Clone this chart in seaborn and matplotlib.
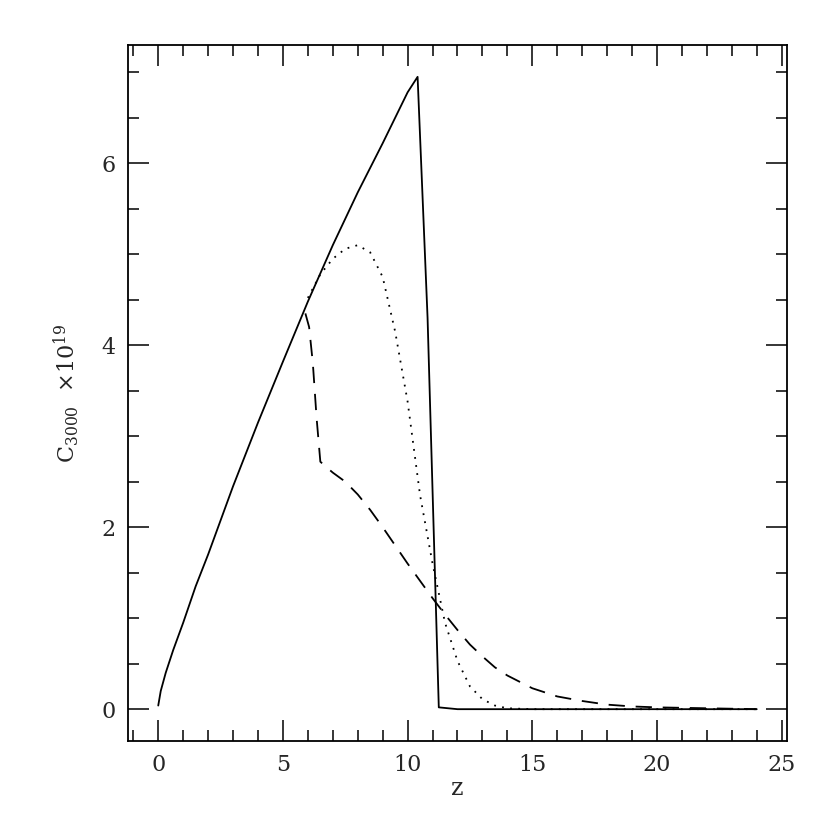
import pandas as pd
import seaborn as sns
import matplotlib.pyplot as plt
from matplotlib.ticker import MultipleLocator

# curva continua
z_solid = [0, 0.1, 0.3, 0.6, 1, 1.5, 2, 3, 4, 5, 6, 7, 8, 9, 10, 10.4, 10.8, 11.25, 12, 24]
c_solid = [0.04, 0.2, 0.4, 0.65, 0.95, 1.35, 1.7, 2.45, 3.15, 3.82, 4.48, 5.1, 5.68, 6.22, 6.78, 6.95, 4.3, 0.02, 0.0, 0.0]

# curva pontilhada
z_dot = [6.0, 6.5, 7.0, 7.5, 8.0, 8.5, 9.0, 9.5, 10.0, 10.5, 11.0, 11.5, 12.0, 12.5, 13.0, 13.5, 14.0, 15.0, 24.0]
c_dot = [4.52, 4.78, 4.95, 5.06, 5.10, 5.02, 4.75, 4.15, 3.38, 2.35, 1.6, 0.95, 0.53, 0.25, 0.11, 0.04, 0.01, 0.0, 0.0]

# curva tracejada
z_dash = [5.9, 6.05, 6.2, 6.35, 6.5, 6.7, 7.0, 7.5, 8.0, 8.5, 9.0, 9.5, 10.0, 10.5, 11.0, 11.5,
          12.0, 12.5, 13.0, 13.5, 14.0, 15.0, 16.0, 17.0, 18.0, 19.0, 20.0, 22.0, 24.0]
c_dash = [4.35, 4.2, 3.8, 3.2, 2.72, 2.67, 2.6, 2.5, 2.36, 2.19, 2.0, 1.8, 1.6, 1.41, 1.22, 1.04,
          0.87, 0.71, 0.58, 0.46, 0.37, 0.23, 0.14, 0.09, 0.05, 0.03, 0.02, 0.01, 0.0]

sns.set_style("ticks")
plt.rcParams['font.family'] = ['DejaVu Serif']
plt.rcParams['mathtext.fontset'] = 'dejavuserif'

fig = plt.figure(figsize=(8.3, 8.3), dpi=100)
ax = fig.add_axes([0.1546, 0.1072, 0.7932, 0.8386])

df_solid = pd.DataFrame({'z': z_solid, 'c': c_solid})
df_dot = pd.DataFrame({'z': z_dot, 'c': c_dot})
df_dash = pd.DataFrame({'z': z_dash, 'c': c_dash})

sns.lineplot(data=df_solid, x='z', y='c', ax=ax, color='black', linewidth=1.3)
sns.lineplot(data=df_dot, x='z', y='c', ax=ax, color='black', linewidth=1.3, linestyle=(0, (1, 3.5)))
sns.lineplot(data=df_dash, x='z', y='c', ax=ax, color='black', linewidth=1.3, linestyle=(0, (9, 6)))

ax.set_xlim(-1.2, 25.2)
ax.set_ylim(-0.35, 7.3)
ax.xaxis.set_major_locator(MultipleLocator(5))
ax.xaxis.set_minor_locator(MultipleLocator(1))
ax.yaxis.set_major_locator(MultipleLocator(2))
ax.yaxis.set_minor_locator(MultipleLocator(0.5))
ax.tick_params(which='both', direction='in', top=True, right=True, color='black', labelsize=16)
ax.tick_params(which='major', length=15, width=1.1, pad=9)
ax.tick_params(which='minor', length=8, width=1.1)
for s in ax.spines.values():
    s.set_linewidth(1.3)
    s.set_color('black')

ax.set_xlabel('z', fontsize=17, labelpad=1)
ax.set_ylabel(r'C$_{3000}$  $\times$10$^{19}$', fontsize=16, labelpad=14)

plt.savefig('out.png', dpi=100)
